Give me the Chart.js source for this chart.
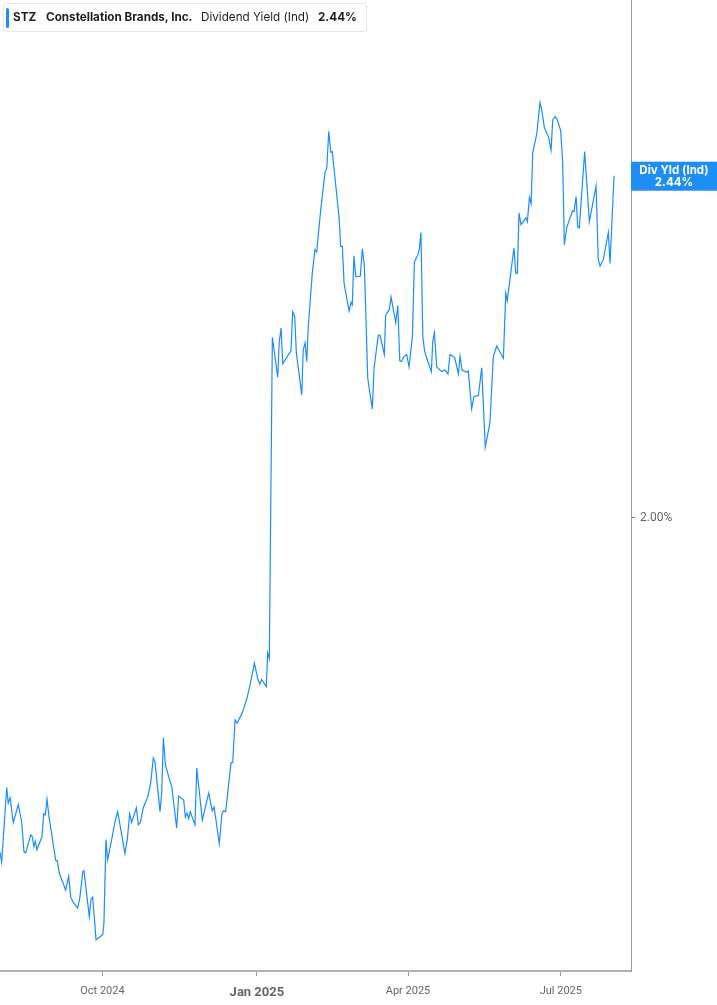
<!DOCTYPE html>
<html>
<head>
<meta charset="utf-8">
<script src="https://cdn.jsdelivr.net/npm/chart.js@4"></script>
<style>
  body { margin: 0; background: #fff; font-family: Inter, "Noto Sans", sans-serif; }
  #wrap { position: relative; width: 717px; height: 1005px; }
  canvas { display: block; }
  #legendBox {
    position: absolute; left: 3px; top: 3px; width: 362px; height: 27px;
    background: #fff; border: 1px solid #e6e6e6; border-radius: 3px;
    font-size: 11.7px; color: #1d1d1d; line-height: 27px; white-space: nowrap;
  }
  #legendBox .bar { position: absolute; left: 2px; top: 4px; width: 3px; height: 20px; background: #1a8cff; border-radius: 2px; }
  #legendBox span { position: absolute; top: 0; }
  .b { font-weight: 700; }
</style>
</head>
<body>
<div id="wrap">
  <canvas id="divChart" width="717" height="1005"></canvas>
  <div id="legendBox">
    <div class="bar"></div>
    <span class="b" style="left:9px">STZ</span>
    <span class="b" style="left:42px">Constellation Brands, Inc.</span>
    <span style="left:197px">Dividend Yield (Ind)</span>
    <span class="b" style="left:314px">2.44%</span>
  </div>
</div>
<script>
// days since 2024-08-01
const startDate = '2024-08-01';
const dayOffsets = [
  0, 1.0, 4.0, 4.9, 6.0, 7.9, 10.9, 12.9, 14.3, 15.3, 18.3, 19.2, 20.2, 21.0, 22.0, 25.0, 26.0, 27.0, 28.0, 29.2,
  33.2, 34.1, 35.3, 39.1, 40.9, 42.1, 43.7, 46.3, 47.6, 49.3, 50.0, 53.2, 54.2, 55.2, 57.2, 59.6, 61.2, 61.9, 63.1, 64.1,
  66.5, 68.5, 70.1, 74.4, 75.8, 77.2, 78.4, 81.2, 82.4, 83.6, 85.3, 88.0, 89.8, 91.3, 92.3, 95.3, 96.3, 97.3, 98.5, 100.2,
  102.3, 105.2, 106.4, 109.4, 110.4, 111.4, 112.4, 113.3, 116.1, 117.2, 120.5, 124.3, 126.4, 127.5, 130.6, 132.2, 133.2, 134.4, 137.6, 138.6,
  140.0, 141.2, 144.3, 147.1, 149.3, 151.5, 153.5, 154.7, 155.9, 158.6, 159.4, 160.4, 162.2, 165.4, 166.3, 167.4, 168.4, 173.3, 174.3, 175.5,
  176.5, 179.7, 180.6, 181.7, 182.7, 183.6, 186.0, 187.6, 188.6, 191.0, 193.6, 194.6, 195.8, 197.0, 197.9, 199.5, 201.9, 202.9, 203.9, 204.9,
  207.9, 209.1, 209.8, 210.8, 211.9, 214.6, 215.8, 217.0, 219.0, 221.7, 222.8, 225.3, 226.3, 228.9, 229.7, 231.9, 232.9, 235.7, 236.9, 238.1,
  239.2, 240.4, 242.2, 243.6, 245.6, 246.8, 248.8, 249.7, 250.7, 251.8, 252.9, 255.1, 256.9, 257.7, 258.7, 260.1, 263.1, 265.0, 266.8, 268.0,
  270.8, 273.0, 274.0, 275.2, 278.0, 278.9, 280.9, 282.3, 284.9, 286.9, 289.0, 291.8, 293.8, 295.8, 299.8, 301.2, 302.1, 304.2, 306.1, 307.1,
  308.1, 309.1, 310.3, 313.3, 314.1, 315.3, 316.3, 317.3, 319.7, 321.6, 322.6, 324.2, 326.8, 328.2, 329.2, 330.6, 331.9, 333.9, 335.1, 336.1,
  337.5, 339.5, 341.1, 341.9, 343.1, 344.1, 345.0, 348.2, 351.0, 355.0, 356.3, 357.4, 359.3, 362.3, 363.3, 365.7
];
const yieldValues = [
  1.570, 1.557, 1.653, 1.633, 1.640, 1.608, 1.631, 1.609, 1.570, 1.569, 1.592, 1.590, 1.577, 1.584, 1.573, 1.590, 1.619, 1.618, 1.638, 1.615,
  1.559, 1.559, 1.543, 1.521, 1.539, 1.512, 1.505, 1.498, 1.512, 1.545, 1.546, 1.487, 1.509, 1.512, 1.457, 1.461, 1.464, 1.479, 1.586, 1.560,
  1.586, 1.609, 1.622, 1.568, 1.586, 1.619, 1.608, 1.627, 1.605, 1.608, 1.627, 1.641, 1.660, 1.691, 1.686, 1.622, 1.646, 1.717, 1.682, 1.669,
  1.654, 1.601, 1.642, 1.637, 1.615, 1.620, 1.613, 1.622, 1.605, 1.678, 1.611, 1.646, 1.623, 1.628, 1.581, 1.620, 1.623, 1.622, 1.685, 1.685,
  1.740, 1.736, 1.749, 1.768, 1.789, 1.813, 1.793, 1.786, 1.792, 1.783, 1.826, 1.819, 2.232, 2.181, 2.226, 2.244, 2.198, 2.215, 2.265, 2.259,
  2.212, 2.158, 2.216, 2.225, 2.201, 2.246, 2.315, 2.345, 2.342, 2.396, 2.445, 2.449, 2.497, 2.470, 2.471, 2.437, 2.387, 2.349, 2.349, 2.302,
  2.266, 2.277, 2.274, 2.337, 2.310, 2.311, 2.346, 2.324, 2.180, 2.140, 2.193, 2.235, 2.235, 2.210, 2.261, 2.268, 2.284, 2.251, 2.273, 2.202,
  2.201, 2.207, 2.210, 2.194, 2.233, 2.329, 2.338, 2.345, 2.367, 2.233, 2.214, 2.199, 2.188, 2.226, 2.238, 2.194, 2.188, 2.190, 2.185, 2.210,
  2.206, 2.185, 2.208, 2.190, 2.187, 2.189, 2.140, 2.156, 2.157, 2.193, 2.091, 2.122, 2.207, 2.221, 2.205, 2.289, 2.279, 2.315, 2.347, 2.315,
  2.314, 2.392, 2.377, 2.386, 2.381, 2.412, 2.404, 2.470, 2.494, 2.534, 2.525, 2.502, 2.489, 2.473, 2.512, 2.516, 2.512, 2.498, 2.458, 2.351,
  2.373, 2.386, 2.395, 2.394, 2.413, 2.374, 2.373, 2.471, 2.381, 2.427, 2.332, 2.324, 2.332, 2.367, 2.327, 2.440
];
// quarter starts as days since startDate
const monthTicks = [61, 153, 243, 334];
const monthLabels = ['Oct 2024', 'Jan 2025', 'Apr 2025', 'Jul 2025'];
const yTicks = [2.00];
const seriesLabel = ['Div Yld (Ind)', '2.44%'];

const lineColor = '#1a8cff';

// last value tag on the right axis
const lastTag = {
    id: 'lastTag',
    afterDraw(chart) {
        const { ctx } = chart;
        const y = chart.scales.y.getPixelForValue(yieldValues[yieldValues.length - 1]);
        const left = chart.chartArea.right;
        const w = chart.width - left;
        ctx.save();
        ctx.fillStyle = '#1e8ef5';
        ctx.fillRect(left, y - 14, w, 29);
        ctx.fillStyle = '#fff';
        ctx.font = 'bold 11.5px Inter, "Noto Sans", sans-serif';
        ctx.textAlign = 'center';
        ctx.textBaseline = 'middle';
        ctx.fillText(seriesLabel[0], left + w / 2, y - 5);
        ctx.fillText(seriesLabel[1], left + w / 2, y + 7);
        ctx.restore();
    }
};

new Chart(document.getElementById('divChart'), {
    type: 'line',
    data: {
        datasets: [{
            data: dayOffsets.map((d, i) => ({ x: d, y: yieldValues[i] })),
            borderColor: lineColor,
            borderWidth: 1.2,
            pointRadius: 0,
            tension: 0,
            fill: false,
        }]
    },
    options: {
        responsive: false,
        animation: false,
        layout: { padding: 0 },
        plugins: { legend: { display: false }, tooltip: { enabled: false } },
        scales: {
            x: {
                type: 'linear',
                min: 0,
                max: 375.8,
                afterBuildTicks: s => { s.ticks = monthTicks.map(v => ({ value: v })); },
                afterFit: s => { s.height = 34; s.paddingLeft = 0; s.paddingRight = 0; },
                ticks: {
                    autoSkip: false,
                    maxRotation: 0,
                    padding: 9,
                    color: '#666',
                    font: ctx => ctx.tick && ctx.tick.value === 153
                        ? { family: 'Roboto', size: 13, weight: 'bold' }
                        : { family: 'Roboto', size: 11 },
                    callback: v => monthLabels[monthTicks.indexOf(v)] || '',
                },
                grid: { drawOnChartArea: false, tickLength: 5, color: '#999' },
                border: { color: '#b0b0b0', width: 2 },
            },
            y: {
                position: 'right',
                min: 1.417,
                max: 2.666,
                afterBuildTicks: s => { s.ticks = yTicks.map(v => ({ value: v })); },
                afterFit: s => { s.width = 86; s.paddingTop = 0; s.paddingBottom = 0; },
                ticks: {
                    padding: 5,
                    color: '#666',
                    font: { family: 'Roboto', size: 12 },
                    callback: v => v.toFixed(2) + '%',
                },
                grid: { drawOnChartArea: false, tickLength: 4, color: '#777' },
                border: { color: '#a0a0a0', width: 1 },
            }
        }
    },
    plugins: [lastTag]
});
</script>
</body>
</html>
